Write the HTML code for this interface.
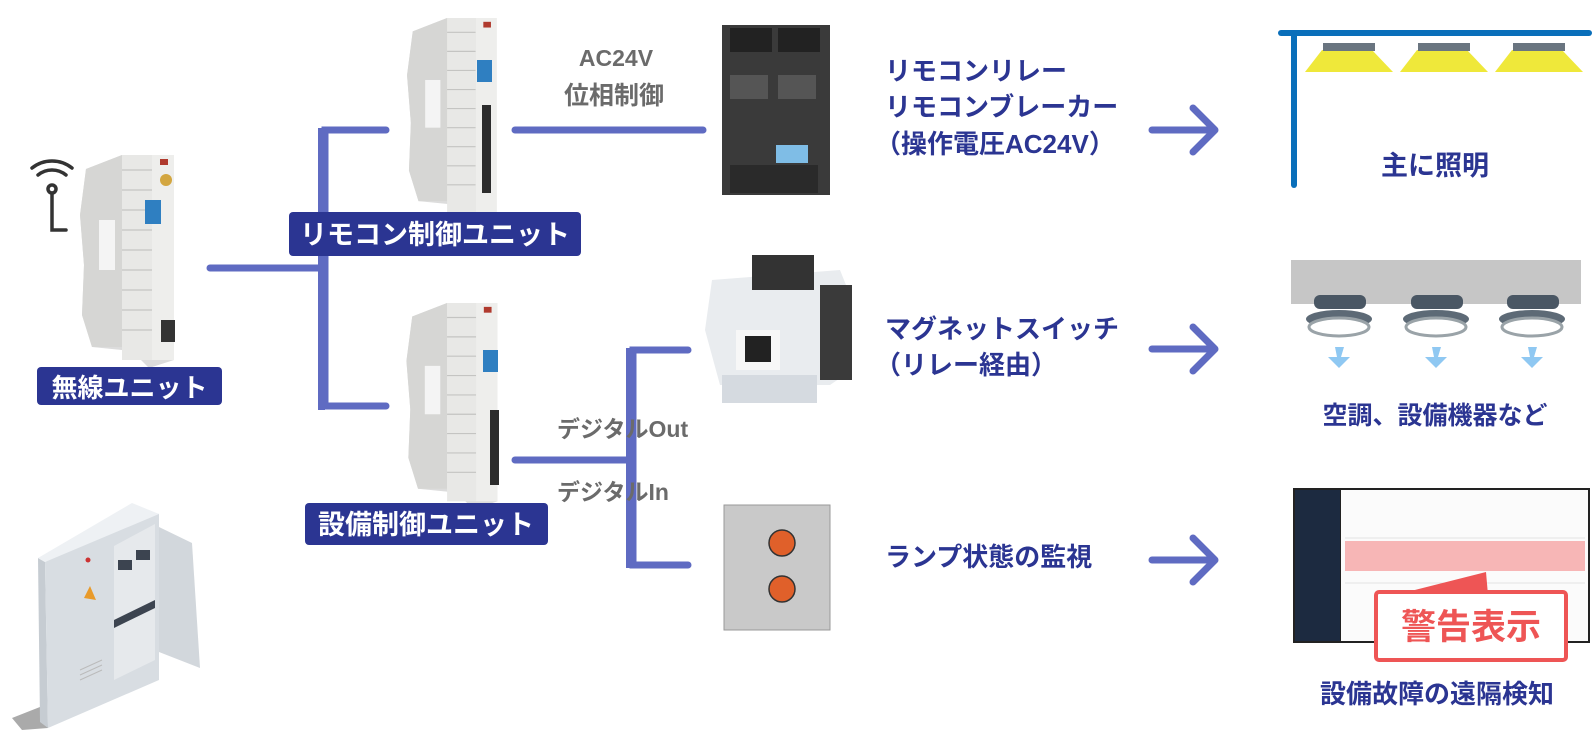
<!DOCTYPE html>
<html><head><meta charset="utf-8"><style>
html,body{margin:0;padding:0;background:#fff;}
svg{display:block;}
text{font-family:"Liberation Sans","Noto Sans CJK JP",sans-serif;font-weight:bold;}
</style></head><body>
<svg width="1596" height="733" viewBox="0 0 1596 733" xmlns="http://www.w3.org/2000/svg">
<defs>
<symbol id="dev" viewBox="0 0 100 215" overflow="visible">
 <polygon points="12,14 48,0 100,0 100,205 75,213 58,196 18,192 8,160 10,110 6,60" fill="#dcdcdc"/>
 <polygon points="12,14 48,0 48,192 18,192 8,160 10,110 6,60" fill="#d6d6d4"/>
 <rect x="48" y="0" width="30" height="205" fill="#e8e8e6"/>
 <g stroke="#c4c4c2" stroke-width="1.2">
  <line x1="48" y1="15" x2="78" y2="15"/><line x1="48" y1="35" x2="78" y2="35"/><line x1="48" y1="55" x2="78" y2="55"/><line x1="48" y1="75" x2="78" y2="75"/><line x1="48" y1="95" x2="78" y2="95"/><line x1="48" y1="115" x2="78" y2="115"/><line x1="48" y1="135" x2="78" y2="135"/><line x1="48" y1="155" x2="78" y2="155"/><line x1="48" y1="175" x2="78" y2="175"/>
 </g>
 <rect x="78" y="0" width="22" height="205" fill="#eeeeec"/>
 <rect x="25" y="65" width="16" height="50" fill="#f4f4f4"/>
 <rect x="86" y="4" width="8" height="6" fill="#b03a2e"/>
</symbol>
</defs>

<!-- lines -->
<g stroke="#5f6bc2" stroke-width="7" fill="none" stroke-linecap="round">
 <path d="M210 268 H322"/>
 <path d="M386 130 H325 V406 H386"/>
 <path d="M515 130 H703"/>
 <path d="M515 460 H630"/>
 <path d="M688 350 H633 V565 H688"/>
</g>
<rect x="318" y="128" width="7" height="282" fill="#5f6bc2"/>
<rect x="626" y="348" width="7" height="220" fill="#5f6bc2"/>

<!-- wifi icon -->
<g fill="none" stroke="#333" stroke-width="3.5" stroke-linecap="round">
 <path d="M32 168 A32 32 0 0 1 72 168"/>
 <path d="M38 175 A22 22 0 0 1 66 175"/>
 <circle cx="52" cy="189" r="4"/>
 <path d="M52 193 V230 H66"/>
</g>

<!-- devices -->
<use href="#dev" x="72" y="155" width="104" height="215"/>
<rect x="145" y="200" width="16" height="24" fill="#2f7fc1"/>
<circle cx="166" cy="180" r="6" fill="#d3a640"/>
<rect x="161" y="320" width="14" height="22" fill="#333"/>
<use href="#dev" x="395" y="18" width="108" height="205"/>
<rect x="477" y="60" width="15" height="22" fill="#2f7fc1"/>
<rect x="482" y="105" width="9" height="88" fill="#2c2c2c"/>
<use href="#dev" x="395" y="303" width="108" height="208"/>
<rect x="483" y="350" width="15" height="22" fill="#2f7fc1"/>
<rect x="490" y="410" width="9" height="75" fill="#2c2c2c"/>

<!-- labels -->
<rect x="37" y="367" width="185" height="38" rx="4" fill="#2b3592"/>
<text x="129.5" y="397" font-size="26" fill="#fff" text-anchor="middle">無線ユニット</text>
<rect x="289" y="212" width="292" height="44" rx="4" fill="#2b3592"/>
<text x="435" y="244" font-size="27" fill="#fff" text-anchor="middle">リモコン制御ユニット</text>
<rect x="305" y="503" width="243" height="42" rx="4" fill="#2b3592"/>
<text x="426" y="534" font-size="27" fill="#fff" text-anchor="middle">設備制御ユニット</text>

<text x="616" y="66" font-size="23" fill="#6b6b6b" text-anchor="middle">AC24V</text>
<text x="614" y="104" font-size="25" fill="#6b6b6b" text-anchor="middle">位相制御</text>
<text x="557" y="437" font-size="23" fill="#6b6b6b">デジタルOut</text>
<text x="557" y="500" font-size="23" fill="#6b6b6b">デジタルIn</text>

<!-- breaker -->
<rect x="722" y="25" width="108" height="170" fill="#3a3a3a"/>
<rect x="730" y="28" width="42" height="24" fill="#222"/><rect x="778" y="28" width="42" height="24" fill="#222"/>
<rect x="730" y="75" width="38" height="24" fill="#555"/><rect x="778" y="75" width="38" height="24" fill="#555"/>
<rect x="776" y="145" width="32" height="18" fill="#7fbde6"/>
<rect x="730" y="165" width="88" height="28" fill="#2a2a2a"/>

<!-- magnet switch -->
<polygon points="712,280 840,270 852,300 852,370 830,385 720,385 705,330" fill="#e9ecef"/>
<rect x="752" y="255" width="62" height="35" fill="#333"/>
<rect x="820" y="285" width="32" height="95" fill="#3a3a3a"/>
<rect x="736" y="330" width="44" height="40" fill="#f7f7f7"/>
<rect x="745" y="336" width="26" height="26" fill="#222"/>
<rect x="722" y="375" width="95" height="28" fill="#d5dae0"/>

<!-- lamp panel -->
<rect x="724" y="505" width="106" height="125" fill="#c9c9c9" stroke="#999" stroke-width="1"/>
<circle cx="782" cy="543" r="13" fill="#e0602a" stroke="#333" stroke-width="1.5"/>
<circle cx="782" cy="589" r="13" fill="#e0602a" stroke="#333" stroke-width="1.5"/>

<!-- blue texts -->
<g font-size="26" fill="#2b3592">
<text x="885" y="80">リモコンリレー</text>
<text x="885" y="116">リモコンブレーカー</text>
<text x="875" y="153">（操作電圧AC24V）</text>
<text x="885" y="338">マグネットスイッチ</text>
<text x="875" y="374">（リレー経由）</text>
<text x="885" y="566">ランプ状態の監視</text>
</g>

<!-- arrows -->
<g stroke="#5f6bc2" stroke-width="7" fill="none" stroke-linecap="round" stroke-linejoin="round">
<path d="M1152 130 H1213 M1193 108 L1215 130 L1193 152"/>
<path d="M1152 349 H1213 M1193 327 L1215 349 L1193 371"/>
<path d="M1152 560 H1213 M1193 538 L1215 560 L1193 582"/>
</g>

<!-- lighting -->
<g stroke="#0a6fba" stroke-width="6" stroke-linecap="round" fill="none">
<path d="M1281 33 H1589"/><path d="M1294 33 V185"/>
</g>
<g fill="#efe83a">
<polygon points="1322,50 1372,50 1393,72 1305,72"/>
<polygon points="1417,50 1467,50 1488,72 1400,72"/>
<polygon points="1512,50 1562,50 1583,72 1495,72"/>
</g>
<g fill="#6a7580">
<rect x="1323" y="43" width="52" height="8"/><rect x="1418" y="43" width="52" height="8"/><rect x="1513" y="43" width="52" height="8"/>
</g>
<text x="1435" y="175" font-size="27" fill="#2b3592" text-anchor="middle">主に照明</text>

<!-- AC -->
<rect x="1291" y="260" width="290" height="44" fill="#c6c6c6"/>
<g>
 <g id="ac"><rect x="1314" y="295" width="52" height="14" rx="6" fill="#4a5764"/>
 <ellipse cx="1339" cy="319" rx="33" ry="9" fill="#5d6a76"/>
 <ellipse cx="1339" cy="327" rx="30" ry="9" fill="#fff" stroke="#9aa3a8" stroke-width="3"/>
 <polygon points="1335,347 1344,347 1341,357 1350,357 1339,368 1328,357 1337,357" fill="#8fc8f2"/></g>
 <use href="#ac" x="97"/><use href="#ac" x="193"/>
</g>
<text x="1435" y="424" font-size="25" fill="#2b3592" text-anchor="middle">空調、設備機器など</text>

<!-- screen -->
<rect x="1293" y="488" width="297" height="155" fill="#222"/>
<rect x="1295" y="490" width="45" height="151" fill="#1c2a40"/>
<rect x="1341" y="490" width="247" height="151" fill="#fbfbfb"/>
<rect x="1345" y="541" width="240" height="30" fill="#f7b6b6"/>
<g stroke="#e3e3e3"><line x1="1345" y1="538" x2="1585" y2="538"/><line x1="1345" y1="583" x2="1585" y2="583"/></g>
<polygon points="1395,595 1488,595 1486,572" fill="#ee5555"/>
<rect x="1376" y="592" width="190" height="68" rx="3" fill="#fff" stroke="#ee5555" stroke-width="4"/>
<text x="1471" y="639" font-size="35" fill="#ee5555" text-anchor="middle">警告表示</text>
<text x="1437" y="703" font-size="26" fill="#2b3592" text-anchor="middle">設備故障の遠隔検知</text>

<!-- cabinet -->
<polygon points="12,718 45,705 48,728 22,730" fill="#aaa"/>
<polygon points="38,558 45,562 48,728 40,722" fill="#c6ccd2"/>
<polygon points="45,562 137,507 159,514 159,680 48,728" fill="#d8dde2"/>
<polygon points="38,558 132,503 159,514 45,562" fill="#eef1f4"/>
<polygon points="114,546 155,524 155,660 114,680" fill="#e6e9ec"/>
<g fill="#3c4450">
<rect x="118" y="560" width="14" height="10"/><rect x="136" y="550" width="14" height="10"/>
<polygon points="114,620 155,600 155,608 114,628"/>
</g>
<polygon points="159,527 192,543 200,668 159,652" fill="#d2d7dc"/>
<polygon points="84,598 90,586 96,600" fill="#e89a2a"/>
<circle cx="88" cy="560" r="2.5" fill="#c33"/>
<g stroke="#bbb" stroke-width="1"><line x1="80" y1="670" x2="102" y2="660"/><line x1="80" y1="675" x2="102" y2="665"/><line x1="80" y1="680" x2="102" y2="670"/></g>
</svg>
</body></html>
